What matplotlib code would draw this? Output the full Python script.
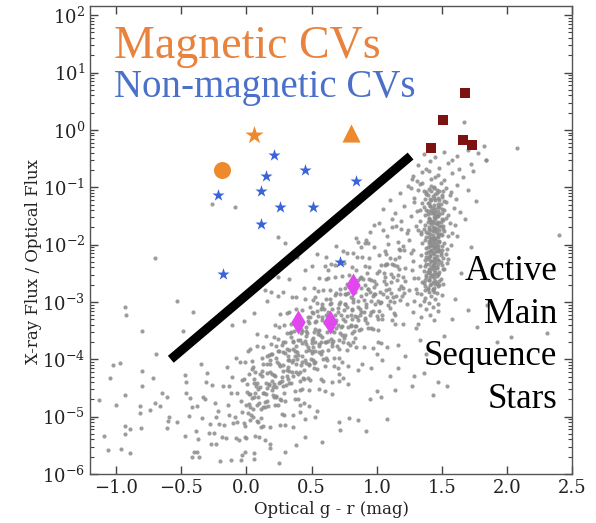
import numpy as np
import matplotlib
matplotlib.use("Agg")
import matplotlib.pyplot as plt
from matplotlib.ticker import LogLocator, MultipleLocator, NullFormatter

plt.rcParams["font.family"] = "DejaVu Serif"
plt.rcParams["mathtext.fontset"] = "dejavuserif"

# ---- field stars (g - r, log10 Fx/Fopt) ----
# main-sequence band
band_gr = [
    -0.44, -0.47, -0.43,
    -0.39, -0.42, -0.38,
    -0.34, -0.37, -0.33, -0.36,
    -0.29, -0.32, -0.28, -0.31,
    -0.24, -0.27, -0.23, -0.26, -0.25,
    -0.19, -0.22, -0.18, -0.21, -0.20,
    -0.14, -0.17, -0.13, -0.16, -0.15, -0.13,
    -0.09, -0.12, -0.08, -0.11, -0.10, -0.08, -0.12,
    -0.04, -0.07, -0.03, -0.06, -0.05, -0.03, -0.07, -0.04,
    0.01, -0.02, 0.02, -0.01, 0.00, 0.02, -0.02, 0.01, -0.01,
    0.06, 0.03, 0.07, 0.04, 0.05, 0.07, 0.03, 0.06, 0.04, 0.06,
    0.11, 0.08, 0.12, 0.09, 0.10, 0.12, 0.08, 0.11, 0.09, 0.11, 0.08,
    0.16, 0.13, 0.17, 0.14, 0.15, 0.17, 0.13, 0.16, 0.14, 0.16, 0.13, 0.16,
    0.21, 0.18, 0.22, 0.19, 0.20, 0.22, 0.18, 0.21, 0.19, 0.21, 0.18, 0.21, 0.20,
    0.26, 0.23, 0.27, 0.24, 0.25, 0.27, 0.23, 0.26, 0.24, 0.26, 0.23, 0.26, 0.25, 0.27,
    0.31, 0.28, 0.32, 0.29, 0.30, 0.32, 0.28, 0.31, 0.29, 0.31, 0.28, 0.31, 0.30, 0.32, 0.29,
    0.36, 0.33, 0.37, 0.34, 0.35, 0.37, 0.33, 0.36, 0.34, 0.36, 0.33, 0.36, 0.35, 0.37, 0.34, 0.36,
    0.41, 0.38, 0.42, 0.39, 0.40, 0.42, 0.38, 0.41, 0.39, 0.41, 0.38, 0.41, 0.40, 0.42, 0.39, 0.41,
    0.46, 0.43, 0.47, 0.44, 0.45, 0.47, 0.43, 0.46, 0.44, 0.46, 0.43, 0.46, 0.45, 0.47, 0.44, 0.45, 0.43,
    0.51, 0.48, 0.52, 0.49, 0.50, 0.52, 0.48, 0.51, 0.49, 0.51, 0.48, 0.51, 0.50, 0.52, 0.49, 0.50, 0.48,
    0.56, 0.53, 0.57, 0.54, 0.55, 0.57, 0.53, 0.56, 0.54, 0.56, 0.53, 0.56, 0.55, 0.57, 0.54, 0.55, 0.53,
    0.61, 0.58, 0.62, 0.59, 0.60, 0.62, 0.58, 0.61, 0.59, 0.61, 0.58, 0.61, 0.60, 0.62, 0.59, 0.60, 0.58,
    0.66, 0.63, 0.67, 0.64, 0.65, 0.67, 0.63, 0.66, 0.64, 0.66, 0.63, 0.66, 0.65, 0.67, 0.64, 0.66,
    0.71, 0.68, 0.72, 0.69, 0.70, 0.72, 0.68, 0.71, 0.69, 0.71, 0.68, 0.71, 0.70, 0.72, 0.69, 0.71,
    0.76, 0.73, 0.77, 0.74, 0.75, 0.77, 0.73, 0.76, 0.74, 0.76, 0.73, 0.76, 0.75, 0.77, 0.74,
    0.81, 0.78, 0.82, 0.79, 0.80, 0.82, 0.78, 0.81, 0.79, 0.81, 0.78, 0.81, 0.80, 0.82,
    0.86, 0.83, 0.87, 0.84, 0.85, 0.87, 0.83, 0.86, 0.84, 0.86, 0.83, 0.86, 0.85,
    0.91, 0.88, 0.92, 0.89, 0.90, 0.92, 0.88, 0.91, 0.89, 0.91, 0.88, 0.91,
    0.96, 0.93, 0.97, 0.94, 0.95, 0.97, 0.93, 0.96, 0.94, 0.96, 0.93,
    1.01, 0.98, 1.02, 0.99, 1.00, 1.02, 0.98, 1.01, 0.99, 1.01,
    1.06, 1.03, 1.07, 1.04, 1.05, 1.07, 1.03, 1.06, 1.04,
    1.11, 1.08, 1.12, 1.09, 1.10, 1.12, 1.08, 1.11,
    1.16, 1.13, 1.17, 1.14, 1.15, 1.17, 1.13,
    1.21, 1.18, 1.22, 1.19, 1.20, 1.22,
    1.26, 1.23, 1.27, 1.24, 1.25,
    1.31, 1.28, 1.32, 1.29, 1.30,
]
band_log_ratio = [
    -4.99, -5.34, -4.67,
    -5.25, -4.84, -5.62,
    -5.02, -5.39, -4.66, -5.70,
    -5.29, -4.69, -5.13, -4.40,
    -4.77, -5.48, -5.01, -4.45, -5.29,
    -5.35, -4.90, -4.46, -5.13, -5.78,
    -4.79, -5.14, -4.47, -5.38, -4.14, -4.98,
    -5.00, -4.59, -5.37, -4.31, -5.11, -3.97, -5.75,
    -4.72, -5.09, -4.36, -5.40, -4.04, -4.92, -4.58, -5.75,
    -4.94, -4.34, -4.78, -4.05, -5.37, -4.60, -5.11, -3.85, -5.62,
    -4.35, -5.06, -4.59, -4.03, -4.87, -5.34, -3.82, -4.66, -4.17, -5.63,
    -4.87, -4.42, -3.98, -4.65, -5.35, -4.20, -3.56, -5.02, -4.52, -5.18, -3.77,
    -4.24, -4.59, -3.92, -4.83, -3.59, -4.43, -5.16, -4.08, -5.41, -4.50, -3.79, -4.72,
    -4.43, -4.02, -4.80, -3.74, -4.54, -3.40, -5.18, -4.28, -3.91, -4.66, -5.47, -3.61, -4.37,
    -4.11, -4.48, -3.75, -4.79, -3.43, -4.31, -3.97, -5.14, -3.64, -4.39, -4.66, -3.21, -3.86, -4.96,
    -4.29, -3.69, -4.13, -3.40, -4.72, -3.95, -4.46, -3.20, -4.97, -3.82, -4.21, -3.54, -5.15, -4.01, -4.59,
    -3.70, -4.41, -3.94, -3.38, -4.22, -4.69, -3.17, -4.01, -3.52, -4.98, -3.83, -4.30, -2.92, -4.55, -3.61, -5.18,
    -4.22, -3.77, -3.33, -4.00, -4.70, -3.55, -2.91, -4.37, -3.87, -4.53, -3.12, -4.92, -3.66, -4.10, -3.40, -4.80,
    -3.59, -3.94, -3.27, -4.18, -2.94, -3.78, -4.51, -3.43, -4.76, -3.85, -3.14, -4.07, -3.68, -4.32, -2.75, -5.04, -3.51,
    -3.78, -3.37, -4.15, -3.09, -3.89, -2.75, -4.53, -3.63, -3.26, -4.01, -4.82, -2.96, -3.72, -3.52, -4.36, -3.18, -4.10,
    -3.49, -3.86, -3.13, -4.17, -2.81, -3.69, -3.35, -4.52, -3.02, -3.77, -4.04, -2.59, -3.24, -4.34, -4.90, -3.56, -2.91,
    -3.69, -3.09, -3.53, -2.80, -4.12, -3.35, -3.86, -2.60, -4.37, -3.22, -3.61, -2.94, -4.55, -3.41, -3.99, -2.38, -3.27,
    -3.12, -3.83, -3.36, -2.80, -3.64, -4.11, -2.59, -3.43, -2.94, -4.40, -3.25, -3.72, -2.34, -3.97, -3.03, -4.60,
    -3.67, -3.22, -2.78, -3.45, -4.15, -3.00, -2.36, -3.82, -3.32, -3.98, -2.57, -4.37, -3.11, -3.55, -2.85, -4.25,
    -3.04, -3.42, -2.69, -3.69, -2.32, -3.25, -4.05, -2.86, -4.33, -3.33, -2.54, -3.57, -3.14, -3.84, -2.11,
    -3.29, -2.84, -3.70, -2.53, -3.41, -2.15, -4.11, -3.12, -2.72, -3.54, -4.43, -2.39, -3.22, -3.00,
    -2.99, -3.42, -2.58, -3.78, -2.21, -3.22, -2.83, -4.18, -2.45, -3.32, -3.63, -1.96, -2.71,
    -3.28, -2.56, -3.09, -2.21, -3.79, -2.87, -3.48, -1.97, -4.09, -2.71, -3.18, -2.38,
    -2.61, -3.46, -2.90, -2.23, -3.23, -3.80, -1.97, -2.98, -2.39, -4.15, -2.77,
    -3.30, -2.74, -2.19, -3.03, -3.90, -2.46, -1.66, -3.49, -2.86, -3.69,
    -2.56, -3.00, -2.16, -3.30, -1.74, -2.79, -3.71, -2.36, -4.02,
    -2.85, -2.34, -3.31, -1.99, -2.99, -1.56, -3.79, -2.66,
    -2.53, -3.00, -2.08, -3.38, -1.68, -2.78, -2.36,
    -2.84, -2.09, -2.64, -1.72, -3.38, -2.41,
    -2.14, -3.03, -2.44, -1.74, -2.80,
    -2.85, -2.29, -1.74, -2.58, -3.45,
]

# densest part of the band
core_gr = [
    0.000, 0.008, -0.007, 0.004, 0.025, 0.033, 0.018, 0.029,
    0.050, 0.058, 0.043, 0.054, 0.075, 0.083, 0.068, 0.079,
    0.100, 0.108, 0.093, 0.104, 0.125, 0.133, 0.118, 0.129,
    0.150, 0.158, 0.143, 0.154, 0.175, 0.183, 0.168, 0.179,
    0.200, 0.208, 0.193, 0.204, 0.225, 0.233, 0.218, 0.229,
    0.250, 0.258, 0.243, 0.254, 0.275, 0.283, 0.268, 0.279,
    0.300, 0.308, 0.293, 0.304, 0.325, 0.333, 0.318, 0.329,
    0.350, 0.358, 0.343, 0.354, 0.375, 0.383, 0.368, 0.379,
    0.400, 0.408, 0.393, 0.404, 0.425, 0.433, 0.418, 0.429,
    0.450, 0.458, 0.443, 0.454, 0.475, 0.483, 0.468, 0.479,
    0.500, 0.508, 0.493, 0.504, 0.525, 0.533, 0.518, 0.529,
    0.550, 0.558, 0.543, 0.554, 0.575, 0.583, 0.568, 0.579,
    0.600, 0.608, 0.593, 0.604, 0.625, 0.633, 0.618, 0.629,
    0.650, 0.658, 0.643, 0.654, 0.675, 0.683, 0.668, 0.679,
    0.700, 0.708, 0.693, 0.704, 0.725, 0.733, 0.718, 0.729,
    0.750, 0.758, 0.743, 0.754, 0.775, 0.783, 0.768, 0.779,
    0.800, 0.808, 0.793, 0.804, 0.825, 0.833, 0.818, 0.829,
    0.850, 0.858, 0.843, 0.854, 0.875, 0.883, 0.868, 0.879,
    0.900, 0.908, 0.893, 0.904, 0.925, 0.933, 0.918, 0.929,
    0.950, 0.958, 0.943, 0.954, 0.975, 0.983, 0.968, 0.979,
    1.000, 1.008, 0.993, 1.004, 1.025, 1.033, 1.018, 1.029,
    1.050, 1.058, 1.043, 1.054, 1.075, 1.083, 1.068, 1.079,
    1.100, 1.108, 1.093, 1.104, 1.125, 1.133, 1.118, 1.129,
    1.150, 1.158, 1.143, 1.154, 1.175, 1.183, 1.168, 1.179,
    1.200, 1.208, 1.193, 1.204,
]
core_log_ratio = [
    -4.80, -4.43, -5.16, -4.57, -4.61, -4.97, -4.25, -4.83,
    -5.01, -4.41, -4.67, -4.13, -4.46, -5.08, -4.23, -4.80,
    -4.77, -4.49, -5.10, -4.26, -4.09, -4.59, -4.29, -4.84,
    -4.60, -3.95, -4.75, -4.42, -4.45, -4.08, -4.81, -4.22,
    -4.26, -4.62, -3.90, -4.48, -4.64, -4.04, -4.30, -3.76,
    -4.08, -4.70, -3.85, -4.42, -4.38, -4.10, -4.71, -3.87,
    -3.69, -4.19, -3.89, -4.44, -4.20, -3.55, -4.35, -4.02,
    -4.05, -3.68, -4.41, -3.82, -3.86, -4.22, -3.50, -4.08,
    -4.26, -3.66, -3.92, -3.38, -3.71, -4.33, -3.48, -4.05,
    -4.02, -3.74, -4.35, -3.51, -3.34, -3.84, -3.54, -4.09,
    -3.85, -3.20, -4.00, -3.67, -3.70, -3.33, -4.06, -3.47,
    -3.51, -3.87, -3.15, -3.73, -3.91, -3.31, -3.57, -3.03,
    -3.36, -3.98, -3.13, -3.70, -3.68, -3.40, -4.01, -3.17,
    -3.01, -3.51, -3.21, -3.76, -3.53, -2.88, -3.68, -3.35,
    -3.40, -3.03, -3.76, -3.17, -3.22, -3.58, -2.86, -3.44,
    -3.63, -3.03, -3.29, -2.75, -3.09, -3.71, -2.86, -3.43,
    -3.42, -3.14, -3.75, -2.91, -2.75, -3.25, -2.95, -3.50,
    -3.27, -2.62, -3.42, -3.09, -3.13, -2.76, -3.49, -2.90,
    -2.96, -3.32, -2.60, -3.18, -3.37, -2.77, -3.03, -2.49,
    -2.83, -3.45, -2.60, -3.17, -3.15, -2.87, -3.48, -2.64,
    -2.49, -2.99, -2.69, -3.24, -3.01, -2.36, -3.16, -2.83,
    -2.87, -2.50, -3.23, -2.64, -2.69, -3.05, -2.33, -2.91,
    -3.11, -2.51, -2.77, -2.23, -2.57, -3.19, -2.34, -2.91,
    -2.89, -2.61, -3.22, -2.38, -2.22, -2.72, -2.42, -2.97,
    -2.75, -2.10, -2.90, -2.57,
]

# red-dwarf clump near g - r ~ 1.45
clump_gr = [
    1.36, 1.52, 1.62, 1.78, 1.45, 1.70,
    1.32, 1.41, 1.48, 1.55, 1.63, 1.72, 1.84, 1.38, 1.58,
    1.28, 1.35, 1.42, 1.47, 1.52, 1.58, 1.66, 1.74, 1.40, 1.31, 1.45,
    1.26, 1.33, 1.38, 1.42, 1.46, 1.49, 1.53, 1.57, 1.62, 1.70, 1.44, 1.36, 1.51,
    1.29, 1.35, 1.39, 1.42, 1.45, 1.47, 1.50, 1.53, 1.56, 1.61, 1.76, 1.40, 1.44, 1.48, 1.37,
    1.31, 1.36, 1.39, 1.41, 1.43, 1.45, 1.46, 1.48, 1.50, 1.52, 1.55, 1.59, 1.42, 1.47, 1.38, 1.44, 1.64,
    1.33, 1.37, 1.40, 1.42, 1.43, 1.45, 1.46, 1.47, 1.49, 1.51, 1.53, 1.56, 1.41, 1.44, 1.48, 1.39, 1.45, 1.50, 1.60,
    1.34, 1.38, 1.40, 1.41, 1.43, 1.44, 1.45, 1.46, 1.47, 1.48, 1.50, 1.52, 1.55, 1.42, 1.46, 1.39, 1.49, 1.44, 1.58, 1.36,
    1.35, 1.38, 1.40, 1.41, 1.42, 1.43, 1.44, 1.45, 1.46, 1.47, 1.48, 1.50, 1.52, 1.54, 1.41, 1.45, 1.43, 1.48, 1.37, 1.57, 1.46,
    1.34, 1.37, 1.39, 1.40, 1.42, 1.43, 1.44, 1.45, 1.46, 1.47, 1.49, 1.51, 1.53, 1.41, 1.44, 1.47, 1.38, 1.55, 1.42,
    1.33, 1.36, 1.38, 1.40, 1.41, 1.43, 1.44, 1.45, 1.46, 1.48, 1.50, 1.52, 1.42, 1.39, 1.47, 1.54, 1.44,
    1.32, 1.35, 1.38, 1.40, 1.42, 1.43, 1.45, 1.47, 1.49, 1.51, 1.41, 1.44, 1.37, 1.46,
    1.30, 1.34, 1.37, 1.40, 1.42, 1.44, 1.46, 1.48, 1.39, 1.43, 1.50,
    1.29, 1.33, 1.37, 1.40, 1.43, 1.45, 1.47, 1.36,
    1.28, 1.34, 1.38, 1.41, 1.44, 1.47, 1.32,
    1.44, 1.40, 1.48, 1.42, 1.46, 1.38, 1.50, 1.43, 1.47, 1.41, 1.45, 1.52, 1.39, 1.49, 1.44,
    1.41, 1.47, 1.43, 1.50, 1.39, 1.45, 1.42, 1.48, 1.37, 1.46, 1.44, 1.40, 1.51, 1.43, 1.47,
    1.46, 1.42, 1.49, 1.40, 1.44, 1.51, 1.41, 1.45, 1.38, 1.48, 1.43, 1.47, 1.40, 1.45, 1.42,
    1.43, 1.48, 1.40, 1.45, 1.42, 1.47, 1.39, 1.44, 1.50, 1.41, 1.46, 1.38, 1.44, 1.49, 1.41,
    1.45, 1.39, 1.47, 1.42, 1.49, 1.40, 1.44, 1.37, 1.46, 1.43, 1.51, 1.41, 1.45, 1.39, 1.47,
    1.42, 1.46, 1.38, 1.44, 1.40, 1.48, 1.43, 1.36, 1.45, 1.41, 1.47, 1.39, 1.43, 1.37, 1.44,
]
clump_log_ratio = [
    -0.42, -0.38, -0.45, -0.41, -0.48, -0.35,
    -0.62, -0.55, -0.66, -0.58, -0.68, -0.60, -0.52, -0.69, -0.52,
    -0.80, -0.74, -0.86, -0.78, -0.88, -0.75, -0.83, -0.71, -0.72, -0.89, -0.83,
    -1.02, -0.94, -1.08, -0.97, -1.05, -0.92, -1.01, -1.09, -0.96, -1.04, -0.99, -1.06, -1.07,
    -1.18, -1.27, -1.14, -1.22, -1.12, -1.29, -1.17, -1.25, -1.13, -1.21, -1.24, -1.28, -1.19, -1.23, -1.21,
    -1.42, -1.35, -1.47, -1.33, -1.44, -1.38, -1.49, -1.34, -1.45, -1.39, -1.48, -1.36, -1.40, -1.42, -1.39, -1.46, -1.44,
    -1.58, -1.66, -1.53, -1.61, -1.69, -1.55, -1.64, -1.51, -1.60, -1.67, -1.54, -1.62, -1.57, -1.63, -1.68, -1.60, -1.52, -1.56, -1.66,
    -1.78, -1.86, -1.73, -1.82, -1.76, -1.89, -1.71, -1.80, -1.87, -1.74, -1.83, -1.77, -1.85, -1.88, -1.72, -1.79, -1.81, -1.75, -1.79, -1.72,
    -1.98, -2.06, -1.93, -2.02, -2.09, -1.95, -2.04, -1.91, -2.00, -2.07, -1.94, -2.03, -1.97, -2.08, -1.96, -2.05, -2.01, -2.09, -1.92, -2.00, -1.93,
    -2.18, -2.26, -2.13, -2.22, -2.29, -2.15, -2.24, -2.11, -2.20, -2.27, -2.14, -2.23, -2.17, -2.19, -2.28, -2.12, -2.21, -2.25, -2.12,
    -2.38, -2.46, -2.33, -2.42, -2.49, -2.35, -2.44, -2.31, -2.40, -2.47, -2.36, -2.43, -2.39, -2.48, -2.34, -2.32, -2.37,
    -2.58, -2.66, -2.53, -2.62, -2.69, -2.55, -2.64, -2.51, -2.60, -2.68, -2.57, -2.52, -2.61, -2.67,
    -2.78, -2.86, -2.73, -2.82, -2.89, -2.75, -2.84, -2.71, -2.77, -2.80, -2.88,
    -2.98, -3.06, -2.93, -3.02, -3.09, -2.95, -3.04, -2.99,
    -3.18, -3.26, -3.13, -3.22, -3.31, -3.16, -3.38,
    -1.01, -1.03, -1.06, -1.07, -1.10, -1.12, -1.13, -1.16, -1.19, -1.20, -1.23, -1.24, -1.27, -1.29, -1.31,
    -1.32, -1.35, -1.37, -1.38, -1.41, -1.43, -1.45, -1.46, -1.49, -1.51, -1.52, -1.55, -1.57, -1.58, -1.61,
    -1.63, -1.64, -1.67, -1.69, -1.71, -1.72, -1.75, -1.77, -1.78, -1.81, -1.83, -1.85, -1.86, -1.89, -1.91,
    -1.92, -1.95, -1.97, -1.98, -2.01, -2.03, -2.05, -2.06, -2.09, -2.11, -2.12, -2.15, -2.17, -2.19, -2.20,
    -2.23, -2.25, -2.26, -2.29, -2.31, -2.33, -2.34, -2.37, -2.39, -2.41, -2.42, -2.45, -2.47, -2.48, -2.51,
    -2.53, -2.55, -2.57, -2.59, -2.61, -2.63, -2.65, -2.67, -2.69, -2.71, -2.73, -2.75, -2.77, -2.79, -2.82,
]

# scattered field stars away from the main loci
scatter_gr = [
    -0.93, -0.92, -0.53, -0.41, -0.80, -0.49, -0.69, -0.97, -1.02, -1.05,
    -0.80, -0.72, -0.80, -0.93, -1.00, -1.13, -0.82, -0.82, -0.74, -0.65,
    -0.61, -0.70, -0.66, -0.59, -0.60, -0.53, -0.61, -0.93, -0.89, -0.93,
    -0.81, -1.09, -1.06, -0.96, -0.89, -0.42, -0.40, -0.46, -0.46, -0.38,
    -0.47, -0.35, -0.30,
    -0.26, -0.09, -0.70, 0.24, 0.30, 0.24, 0.28, 0.14, 0.24, -0.02,
    -0.11, 0.06, 0.16, 0.19, 0.39, 0.54, 0.61, 0.69, 0.77, 0.45,
    0.33, 0.50, 0.63,
    1.02, 1.05, 1.08, 1.10, 1.12, 1.14, 1.16, 1.18, 1.19, 1.21,
    1.23, 1.24, 1.26, 1.27, 1.29, 1.30, 1.32, 1.33, 1.35, 0.95,
    0.92, 0.88, 0.84, 0.98, 1.06, 1.14, 1.20, 1.25, 1.34, 1.28,
    1.67, 1.82, 1.84, 2.08, 2.40, 1.70, 1.77, 1.54, 1.43, 2.31,
    2.03, 1.92, 1.29, 1.27, 1.14, 1.08, 0.92, 1.47, 1.36, 1.33,
    1.16, 1.16, 1.03, 1.00, 0.79, 0.86, 0.71, 0.45, 0.58, 0.53,
    0.72, 1.60, 1.65, 1.72, 1.62, 1.68, 1.58, 1.52, 1.85, 1.22,
    1.38, 1.10, 0.95,
    -0.01, 0.06, 0.18, -0.03, -0.23, 0.30, 0.38, 0.25,
]
scatter_log_ratio = [
    -3.09, -3.23, -2.98, -3.18, -3.50, -3.50, -3.91, -4.06, -4.10, -4.33,
    -4.20, -4.32, -4.47, -4.62, -4.79, -4.71, -4.82, -4.94, -4.88, -4.58,
    -4.66, -4.77, -4.81, -5.01, -5.07, -5.09, -5.20, -5.17, -5.22, -5.30,
    -5.19, -5.34, -5.59, -5.57, -5.64, -5.70, -5.61, -4.40, -4.58, -4.82,
    -4.27, -4.08, -4.24,
    -1.30, -1.35, -2.24, -1.87, -1.98, -2.57, -2.82, -2.80, -2.89, -3.34,
    -3.41, -3.19, -2.98, -2.82, -2.21, -2.17, -2.21, -2.03, -2.14, -2.45,
    -2.60, -2.38, -2.45,
    -1.62, -1.38, -1.85, -1.22, -1.70, -1.45, -1.95, -1.10, -1.58, -1.33,
    -1.80, -0.98, -1.50, -0.86, -1.25, -1.68, -1.05, -1.40, -0.92, -1.78,
    -1.92, -2.05, -1.88, -2.05, -2.12, -2.25, -2.02, -1.92, -1.82, -2.10,
    0.13, -0.28, -0.52, -0.32, -1.84, -3.14, -3.43, -4.47, -4.62, -3.55,
    -3.61, -3.69, -4.30, -4.47, -4.53, -5.04, -5.25, -4.40, -4.24, -3.66,
    -3.75, -4.15, -4.65, -4.56, -5.03, -5.05, -5.09, -5.35, -5.44, -5.00,
    -5.23, -2.95, -2.50, -2.05, -1.85, -1.55, -3.30, -3.60, -3.05, -3.95,
    -3.90, -4.30, -4.70,
    -5.35, -5.73, -5.55, -5.67, -5.48, -5.62, -5.50, -5.80,
]

# ---- CVs and other objects ----
mag_circle_gr, mag_circle_ratio = [-0.19], [0.20]
mag_star_gr, mag_star_ratio = [0.06], [0.83]
mag_tri_gr, mag_tri_ratio = [0.80], [0.87]

nonmag_gr = [0.21, 0.15, 0.11, -0.22, 0.26, 0.11, 0.45, 0.84, 0.51, -0.18, 0.72]
nonmag_ratio = [0.37, 0.16, 0.087, 0.074, 0.046, 0.023, 0.20, 0.13, 0.046, 0.0031, 0.0049]

square_gr = [1.68, 1.51, 1.42, 1.66, 1.73]
square_ratio = [4.4, 1.47, 0.49, 0.66, 0.54]

diamond_gr = [0.82, 0.40, 0.64]
diamond_ratio = [0.0020, 0.00045, 0.00045]

# dividing line between CVs and active stars
divider_gr = [-0.58, 1.26]
divider_ratio = [1.0e-4, 0.35]

orange = "#ee8a2c"
blue = "#3b63d8"

fig = plt.figure(figsize=(5.96, 5.23), dpi=100)
ax = fig.add_axes([0.151, 0.0937, 0.809, 0.8948])

field_gr = np.concatenate([band_gr, core_gr, clump_gr, scatter_gr])
field_ratio = 10.0 ** np.concatenate([band_log_ratio, core_log_ratio,
                                      clump_log_ratio, scatter_log_ratio])
ax.scatter(field_gr, field_ratio, s=9, color="#8c8c8c", alpha=0.85,
           linewidths=0, zorder=1)

ax.plot(divider_gr, divider_ratio, color="black", lw=6.5,
        solid_capstyle="butt", zorder=2)

ax.scatter(mag_circle_gr, mag_circle_ratio, s=150, marker="o", color=orange,
           linewidths=0, zorder=3)
ax.scatter(mag_star_gr, mag_star_ratio, s=190, marker="*", color=orange,
           linewidths=0, zorder=3)
ax.scatter(mag_tri_gr, mag_tri_ratio, s=170, marker="^", color=orange,
           linewidths=0, zorder=3)
ax.scatter(nonmag_gr, nonmag_ratio, s=85, marker="*", color=blue,
           linewidths=0, zorder=3)
ax.scatter(square_gr, square_ratio, s=55, marker="s", color="#7d1212",
           linewidths=0, zorder=3)
ax.scatter(diamond_gr, diamond_ratio, s=150, marker="d", color="#e246ee",
           linewidths=0, zorder=3)

ax.set_yscale("log")
ax.set_xlim(-1.2, 2.5)
ax.set_ylim(1e-6, 10 ** 2.16)

ax.xaxis.set_major_locator(MultipleLocator(0.5))
ax.yaxis.set_major_locator(LogLocator(base=10, numticks=20))
ax.yaxis.set_minor_locator(LogLocator(base=10, subs=np.arange(2, 10), numticks=100))
ax.yaxis.set_minor_formatter(NullFormatter())

ax.tick_params(which="both", direction="in", top=True, right=True,
               colors="#444444", labelcolor="#222222", labelsize=13)
ax.tick_params(which="major", length=6, width=1)
ax.tick_params(which="minor", length=3, width=0.8)
for spine in ax.spines.values():
    spine.set_color("#555555")
    spine.set_linewidth(1.0)

ax.set_xlabel("Optical g - r (mag)", fontsize=12, color="#222222")
ax.set_ylabel("X-ray Flux / Optical Flux", fontsize=12, color="#222222")
ax.xaxis.set_label_coords(0.5, -0.058)
ax.yaxis.set_label_coords(-0.10, 0.455)

serif = ["Liberation Serif", "DejaVu Serif"]
ax.text(0.05, 0.889, "Magnetic CVs", transform=ax.transAxes, color="#e8823c",
        fontsize=33, family=serif, va="baseline", ha="left")
ax.text(0.05, 0.806, "Non-magnetic CVs", transform=ax.transAxes, color="#4a70c8",
        fontsize=28, family=serif, va="baseline", ha="left")
ax.text(0.969, 0.296, "Active\nMain\nSequence\nStars", transform=ax.transAxes,
        color="black", fontsize=25, family=serif, ha="right", va="center",
        multialignment="right", linespacing=1.38)

fig.savefig("out.png", dpi=100)
